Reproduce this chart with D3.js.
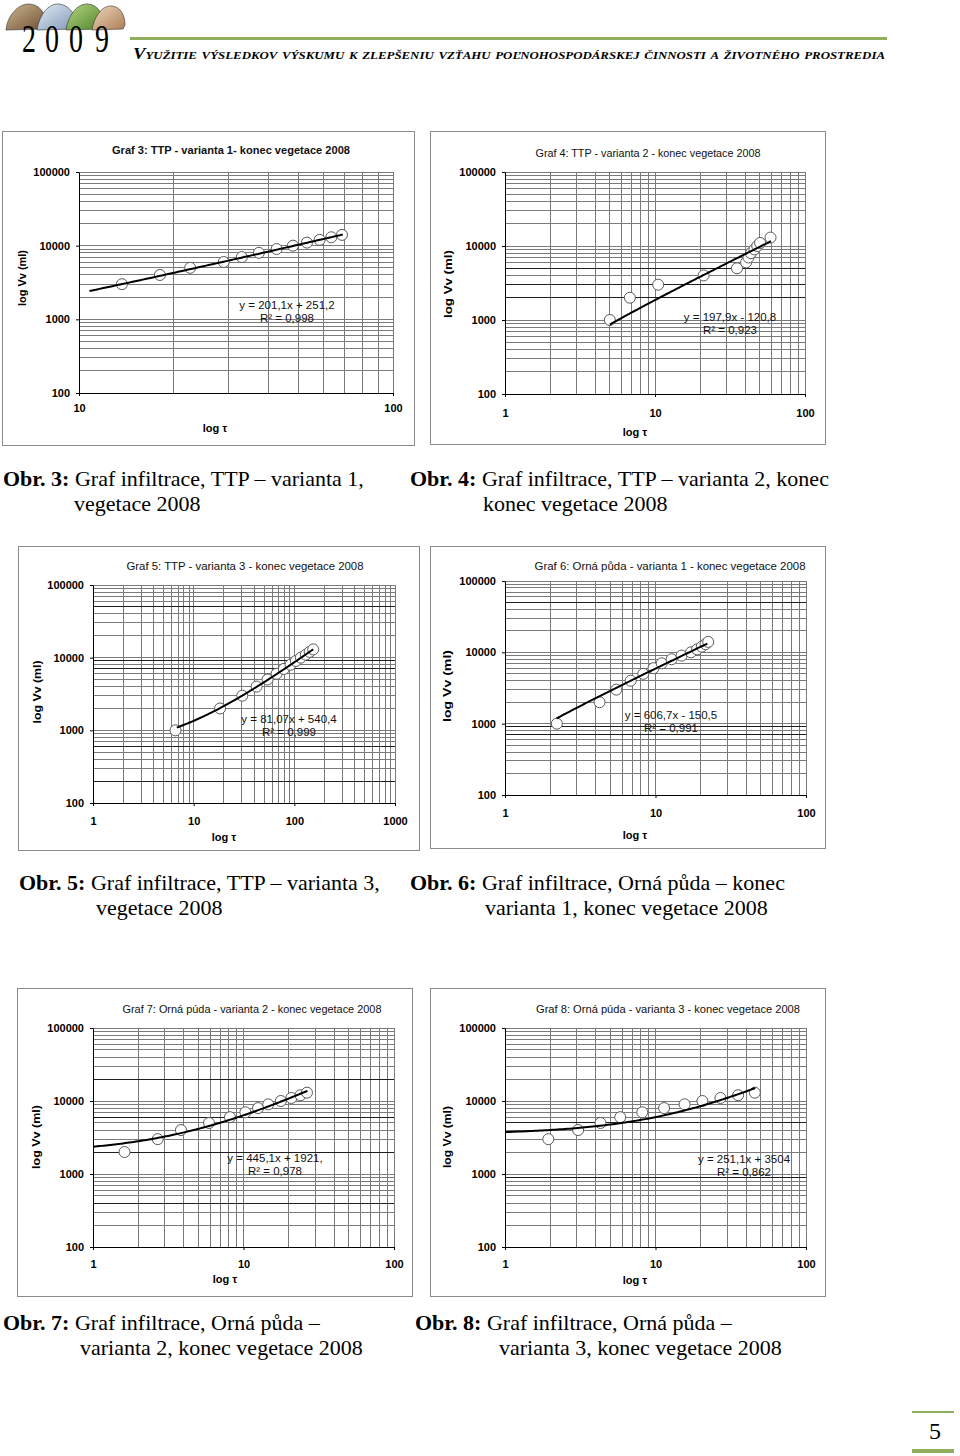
<!DOCTYPE html>
<html><head><meta charset="utf-8">
<script src="https://cdn.jsdelivr.net/npm/d3@7"></script>
<style>body{margin:0;background:#fff} svg{display:block}</style>
</head><body>
<script>
// ---------------- DATA ----------------
const yTicks = [100, 1000, 10000, 100000];
const xTicks3 = [10, 100];
const xTicks5 = [1, 10, 100, 1000];
const xTicksStd = [1, 10, 100];

const g3_tau = [13.7, 18.1, 22.6, 28.9, 33.0, 37.4, 42.6, 48.0, 53.2, 58.4, 63.6, 68.8];
const g3_vol = [3000, 4000, 5000, 6000, 7000, 8000, 9000, 10000, 11000, 12000, 13000, 14000];
const g4_tau = [5.0, 6.8, 10.5, 21.1, 35.2, 40.5, 42.0, 43.6, 46.0, 48.0, 50.2, 58.9];
const g4_vol = [1000, 2000, 3000, 4000, 5000, 6000, 7000, 8000, 9000, 10000, 11000, 13000];
const g5_tau = [6.6, 18.3, 30.4, 42.2, 54.2, 66.6, 78.8, 91.7, 103.6, 116, 130, 142, 154];
const g5_vol = [1000, 2000, 3000, 4000, 5000, 6000, 7000, 8000, 9000, 10000, 11000, 12000, 13000];
const g6_tau = [2.21, 4.25, 5.49, 6.84, 8.3, 9.7, 11.0, 12.8, 14.9, 17.2, 18.9, 20.3, 21.5, 22.4];
const g6_vol = [1000, 2000, 3000, 4000, 5000, 6000, 7000, 8000, 9000, 10000, 11000, 12000, 13000, 14000];
const g7_tau = [1.62, 2.69, 3.84, 5.9, 8.13, 10.3, 12.5, 14.6, 17.7, 20.8, 23.9, 26.4];
const g7_vol = [2000, 3000, 4000, 5000, 6000, 7000, 8000, 9000, 10000, 11000, 12000, 13000];
const g8_tau = [1.94, 3.06, 4.31, 5.83, 8.17, 11.4, 15.6, 20.5, 27.0, 35.4, 45.7];
const g8_vol = [3000, 4000, 5000, 6000, 7000, 8000, 9000, 10000, 11000, 12000, 13000];

// trendline coefficients  y = a*x + b, and the tau range they are drawn over
const trendA = [201.1, 197.9, 81.07, 606.7, 445.1, 251.1];
const trendB = [251.2, -120.8, 540.4, -150.5, 1921, 3504];
const trendRange = [[10.8, 69.2], [5.0, 59.3], [6.8, 154], [2.2, 22.1], [1.0, 26.6], [1.0, 46.0]];
const eqText = ["y = 201,1x + 251,2", "y = 197,9x - 120,8", "y = 81,07x + 540,4",
                "y = 606,7x - 150,5", "y = 445,1x + 1921,", "y = 251,1x + 3504"];
const r2Text = ["R² = 0,998", "R² = 0,923", "R² = 0,999", "R² = 0,991", "R² = 0,978", "R² = 0,862"];
const titles = ["Graf 3: TTP - varianta 1- konec vegetace 2008",
                "Graf 4: TTP - varianta 2 - konec vegetace 2008",
                "Graf 5: TTP - varianta 3 - konec vegetace 2008",
                "Graf 6: Orná půda - varianta 1 - konec vegetace 2008",
                "Graf 7: Orná púda - varianta 2 - konec vegetace 2008",
                "Graf 8: Orná púda - varianta 3 - konec vegetace 2008"];
const xTitle = "log τ";
const yTitle = "log Vv (ml)";

const captions = [
  {b:"Obr. 3:", t:" Graf infiltrace, TTP – varianta 1,", l2:"vegetace 2008"},
  {b:"Obr. 4:", t:" Graf infiltrace, TTP – varianta 2, konec", l2:"konec vegetace 2008"},
  {b:"Obr. 5:", t:" Graf infiltrace, TTP – varianta 3,", l2:"vegetace 2008"},
  {b:"Obr. 6:", t:" Graf infiltrace, Orná půda – konec", l2:"varianta 1, konec vegetace 2008"},
  {b:"Obr. 7:", t:" Graf infiltrace, Orná půda –", l2:"varianta 2, konec vegetace 2008"},
  {b:"Obr. 8:", t:" Graf infiltrace, Orná půda –", l2:"varianta 3, konec vegetace 2008"}
];
const headerText = "Využitie výsledkov výskumu k zlepšeniu  vzťahu poľnohospodárskej činnosti  a  životného prostredia";
const yearDigits = ["2", "0", "0", "9"];
const pageNo = "5";

// ---------------- LAYOUT ----------------
const layout = [
  {frame:[2,131,414,445], plot:[79,393,172,393], xd:[10,100], xt:xTicks3, title:[231,150], bold:true, tl:238,
   xlab:408, xtl:[215,428], ytl:[22,278], yl:56, eq:[287,305], dark:[]},
  {frame:[430,131,825,444], plot:[505,805,172,394], xd:[1,100], xt:xTicksStd, title:[648,153], bold:false, tl:225,
   xlab:413, xtl:[635,432], ytl:[448,284], yl:68, eq:[730,317], dark:[2000,3000,5000]},
  {frame:[18,546,419,850], plot:[93,395,585,803], xd:[1,1000], xt:xTicks5, title:[245,566], bold:false, tl:237,
   xlab:821, xtl:[224,837], ytl:[37,692], yl:63, eq:[289,719], dark:[50000,9000,7000,600,200]},
  {frame:[430,546,825,848], plot:[505,806,581,795], xd:[1,100], xt:xTicksStd, title:[670,566], bold:false, tl:271,
   xlab:813, xtl:[635,835], ytl:[447,686], yl:72, eq:[671,715], dark:[50000,900,700]},
  {frame:[17,988,412,1296], plot:[93,394,1028,1247], xd:[1,100], xt:xTicksStd, title:[252,1009], bold:false, tl:259,
   xlab:1264, xtl:[225,1279], ytl:[36,1137], yl:64, eq:[275,1158], dark:[20000,6000,2000,400]},
  {frame:[430,988,825,1296], plot:[505,806,1028,1247], xd:[1,100], xt:xTicksStd, title:[668,1009], bold:false, tl:264,
   xlab:1264, xtl:[635,1280], ytl:[447,1137], yl:62, eq:[744,1159], dark:[5000,900]}
];
const capLayout = [
  {x:3, y:486, x2:74}, {x:410, y:486, x2:483},
  {x:19, y:890, x2:96}, {x:410, y:890, x2:485},
  {x:3, y:1330, x2:80}, {x:415, y:1330, x2:499}
];

const series = [[g3_tau,g3_vol],[g4_tau,g4_vol],[g5_tau,g5_vol],[g6_tau,g6_vol],[g7_tau,g7_vol],[g8_tau,g8_vol]];

const SANS = "'Liberation Sans', Arial, sans-serif";
const SERIF = "'Liberation Serif', 'Times New Roman', serif";
const GRID = "#7a7a7a";
const DARK = "#1e1e1e";
const GREEN = "#8fae5e";

const svg = d3.select("body").append("svg").attr("width",960).attr("height",1456)
  .style("font-family", SANS);

// ---------------- HEADER ----------------
const logo = svg.append("g");
const humps = [
  {d:"M6,30 C7,17 17,4 29,4 C39,4 45,13 46,21 L45,29 Z", c:"#6e4f34", c2:"#cdb690"},
  {d:"M37,30 C39,16 48,3 59,4 C69,5 75,14 76,22 L74,29 Z", c:"#7f98b8", c2:"#e3eaf3"},
  {d:"M66,30 C68,16 77,3 88,4 C98,5 103,14 103,22 L101,29 Z", c:"#4f8429", c2:"#b5d582"},
  {d:"M92,30 C94,17 102,5 112,6 C121,7 125,16 125,25 L123,29 Z", c:"#ad7f58", c2:"#ecd6ba"}
];
const defs = svg.append("defs");
humps.forEach((h,i)=>{
  const gr = defs.append("linearGradient").attr("id","hg"+i).attr("x1","0").attr("y1","0").attr("x2","1").attr("y2","1");
  gr.append("stop").attr("offset","0").attr("stop-color",h.c2);
  gr.append("stop").attr("offset","1").attr("stop-color",h.c);
  logo.append("path").attr("d",h.d).attr("fill","url(#hg"+i+")").attr("stroke","#333").attr("stroke-width",0.6);
});
const digitX = [29, 52, 76, 102];
yearDigits.forEach((d,k)=>{
  svg.append("text").attr("transform",`translate(${digitX[k]},52) scale(0.7,1)`).attr("text-anchor","middle")
    .attr("font-family",SERIF).attr("font-size",40).text(d);
});
svg.append("rect").attr("x",130).attr("y",37).attr("width",757).attr("height",3).attr("fill",GREEN);
svg.append("text").attr("x",133).attr("y",58.5).attr("font-family",SERIF).attr("font-size",16)
  .attr("font-weight","bold").attr("font-style","italic").style("font-variant","small-caps")
  .attr("textLength",752).attr("lengthAdjust","spacingAndGlyphs").text(headerText);

// ---------------- CHARTS ----------------
function gridVals(lo, hi){
  const out=[];
  for(let d=lo; d<hi; d*=10){ for(let k=1;k<=9;k++) out.push(k*d); }
  out.push(hi);
  return out;
}
const px = v => Math.floor(v)+0.5;

layout.forEach((L,i)=>{
  const g = svg.append("g");
  const [fx0,fy0,fx1,fy1] = L.frame;
  g.append("rect").attr("x",fx0+0.5).attr("y",fy0+0.5).attr("width",fx1-fx0).attr("height",fy1-fy0)
    .attr("fill","#fff").attr("stroke","#8a8a8a");
  const [x0,x1,y0,y1] = L.plot;
  const x = d3.scaleLog().domain(L.xd).range([x0,x1]);
  const y = d3.scaleLog().domain([100,100000]).range([y1,y0]);

  g.append("g").selectAll("line").data(gridVals(L.xd[0],L.xd[1])).join("line")
    .attr("x1",d=>px(x(d))).attr("x2",d=>px(x(d))).attr("y1",y0).attr("y2",y1)
    .attr("stroke",GRID).attr("stroke-width",1);
  g.append("g").selectAll("line").data(gridVals(100,100000)).join("line")
    .attr("y1",d=>px(y(d))).attr("y2",d=>px(y(d))).attr("x1",x0).attr("x2",x1)
    .attr("stroke",d=>L.dark.includes(d)?DARK:GRID).attr("stroke-width",1);

  // axes
  const ya = g.append("g").attr("transform",`translate(${x0},0)`)
    .call(d3.axisLeft(y).tickValues(yTicks).tickFormat(d3.format("d")).tickSize(3).tickSizeOuter(0).tickPadding(6));
  ya.select(".domain").attr("stroke","#000");
  ya.selectAll(".tick line").attr("stroke","#000");
  ya.selectAll("text").attr("font-family",SANS).attr("font-size",11).attr("font-weight","bold").attr("fill","#000");
  const xa = g.append("g").attr("transform",`translate(0,${y1})`)
    .call(d3.axisBottom(x).tickValues(L.xt).tickFormat(d3.format("d")).tickSize(3).tickSizeOuter(0));
  xa.select(".domain").attr("stroke","#000");
  xa.selectAll(".tick line").attr("stroke","#000");
  xa.selectAll("text").attr("font-family",SANS).attr("font-size",11).attr("font-weight","bold").attr("fill","#000")
    .attr("y", L.xlab - y1).attr("dy","0.35em");

  // markers
  const [tau, vol] = series[i];
  g.append("g").selectAll("circle").data(tau.map((t,k)=>[t,vol[k]])).join("circle")
    .attr("cx",d=>x(d[0])).attr("cy",d=>y(d[1])).attr("r",5.5)
    .attr("fill","#fff").attr("stroke","#5a5a5a").attr("stroke-width",1);

  // trendline
  const [t0,t1] = trendRange[i];
  const pts = d3.range(0,101).map(k=>{ const t = t0*Math.pow(t1/t0,k/100); return [t, trendA[i]*t+trendB[i]]; });
  g.append("path").attr("d", d3.line().x(d=>x(d[0])).y(d=>y(d[1]))(pts))
    .attr("fill","none").attr("stroke","#000").attr("stroke-width",2);

  // texts
  g.append("text").attr("x",L.title[0]).attr("y",L.title[1]).attr("dy","0.35em").attr("text-anchor","middle")
    .attr("font-size",11).attr("font-weight",L.bold?"bold":"normal").attr("fill","#111")
    .attr("textLength",L.tl).attr("lengthAdjust","spacingAndGlyphs").text(titles[i]);
  g.append("text").attr("x",L.xtl[0]).attr("y",L.xtl[1]).attr("dy","0.35em").attr("text-anchor","middle")
    .attr("font-size",11).attr("font-weight","bold").text(xTitle);
  g.append("text").attr("transform",`translate(${L.ytl[0]},${L.ytl[1]}) rotate(-90)`).attr("dy","0.35em")
    .attr("text-anchor","middle").attr("font-size",11).attr("font-weight","bold")
    .attr("textLength",L.yl).attr("lengthAdjust","spacingAndGlyphs").text(yTitle);
  g.append("text").attr("x",L.eq[0]).attr("y",L.eq[1]).attr("dy","0.35em").attr("text-anchor","middle")
    .attr("font-size",11.5).attr("fill","#111").text(eqText[i]);
  g.append("text").attr("x",L.eq[0]).attr("y",L.eq[1]+13).attr("dy","0.35em").attr("text-anchor","middle")
    .attr("font-size",11.5).attr("fill","#111").text(r2Text[i]);
});

// ---------------- CAPTIONS ----------------
captions.forEach((c,i)=>{
  const P = capLayout[i];
  const t = svg.append("text").attr("x",P.x).attr("y",P.y).attr("font-family",SERIF).attr("font-size",22);
  t.append("tspan").attr("font-weight","bold").text(c.b);
  t.append("tspan").text(c.t);
  svg.append("text").attr("x",P.x2).attr("y",P.y+25).attr("font-family",SERIF).attr("font-size",22).text(c.l2);
});

// ---------------- PAGE NUMBER ----------------
svg.append("rect").attr("x",912).attr("y",1411).attr("width",42).attr("height",2).attr("fill",GREEN);
svg.append("rect").attr("x",912).attr("y",1449).attr("width",42).attr("height",4).attr("fill",GREEN);
svg.append("text").attr("x",935).attr("y",1439).attr("text-anchor","middle").attr("font-family",SERIF)
  .attr("font-size",24).text(pageNo);
</script>
</body></html>
